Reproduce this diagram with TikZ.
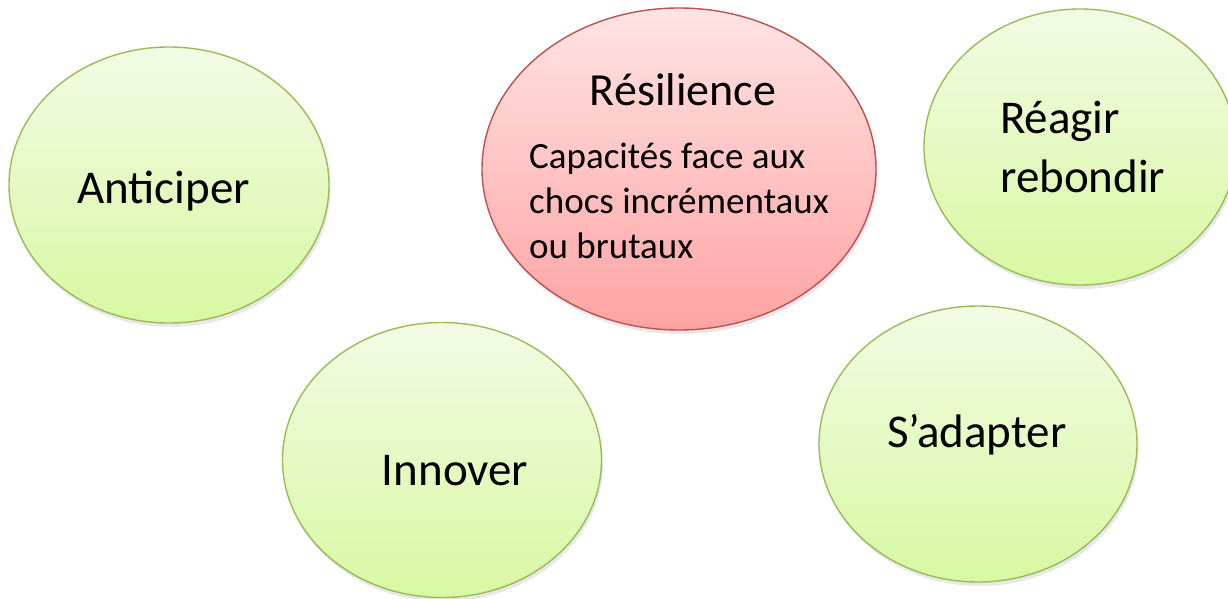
\documentclass[tikz,border=0pt]{standalone}
\usepackage{fontspec}
\setmainfont{Carlito}
\usetikzlibrary{shapes.geometric,shadows}
\definecolor{gtop}{RGB}{242,251,228}
\definecolor{gbot}{RGB}{216,248,162}
\definecolor{gline}{RGB}{155,187,89}
\definecolor{rtop}{RGB}{255,228,228}
\definecolor{rbot}{RGB}{255,163,163}
\definecolor{rline}{RGB}{192,80,77}
\tikzset{
  blob/.style={ellipse, inner sep=0pt, line width=1.4pt,
    drop shadow={opacity=0.18, shadow xshift=1.5pt, shadow yshift=-4pt}},
  greenblob/.style={blob, draw=gline, top color=gtop, bottom color=gbot},
  redblob/.style={blob, draw=rline, top color=rtop, bottom color=rbot},
  bigtxt/.style={font=\fontsize{47}{59}\selectfont, inner sep=0pt},
  titletxt/.style={font=\fontsize{46}{56}\selectfont, inner sep=0pt},
  bodytxt/.style={font=\fontsize{37}{45}\selectfont, inner sep=0pt, align=left}
}
\begin{document}
\begin{tikzpicture}[x=1pt,y=-1pt]
\useasboundingbox (0,0) rectangle (1228,599);
\node[greenblob, minimum width=320, minimum height=276] (anticiper) at (169,185) {};
\node[redblob, minimum width=394, minimum height=322] (resilience) at (679,169) {};
\node[greenblob, minimum width=312, minimum height=276] (reagir) at (1080,147) {};
\node[greenblob, minimum width=319, minimum height=275] (innover) at (442,460) {};
\node[greenblob, minimum width=318, minimum height=276] (sadapter) at (978,444) {};
\node[bigtxt, anchor=base] (tanticiper) at (163.5,203) {Anticiper};
\node[titletxt, anchor=base] (tresilience) at (683,106) {Résilience};
\node[bodytxt, anchor=base west] (tbody) at (529,258) {Capacités face aux\\chocs incrémentaux\\ou brutaux};
\node[bigtxt, anchor=base west, align=left] (treagir) at (1000,192) {Réagir\\rebondir};
\node[bigtxt, anchor=base] (tinnover) at (455,485) {Innover};
\node[bigtxt, anchor=base] (tsadapter) at (977,447) {S’adapter};
\end{tikzpicture}
\end{document}
